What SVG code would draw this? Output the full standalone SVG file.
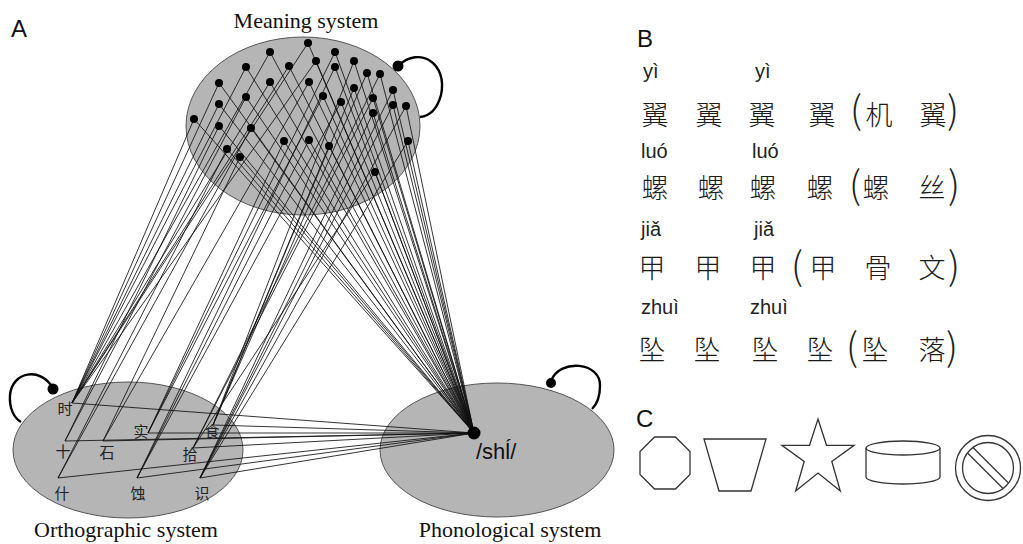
<svg xmlns="http://www.w3.org/2000/svg" width="1023" height="544" viewBox="0 0 1023 544">
<style>
.sys{fill:#b5b5b5;stroke:#555;stroke-width:1}
.lbl{font-family:"Liberation Serif",serif;font-size:22px;fill:#111;text-anchor:middle}
.pl{font-family:"Liberation Sans",Arial,sans-serif;font-size:24px;fill:#111}
.c{stroke:#111;stroke-width:0.85;fill:none}
.loop{stroke:#000;stroke-width:2.4;fill:none}
.dot{fill:#000}
.oc{font-family:"Noto Sans CJK SC","Noto Sans CJK JP",sans-serif;font-size:15px;fill:#222;text-anchor:middle}
.py{font-family:"Liberation Sans",Arial,sans-serif;font-size:20px;fill:#222}
.hz{font-family:"Noto Sans CJK SC","Noto Sans CJK JP",sans-serif;font-size:27px;font-weight:300;fill:#1a1a1a;text-anchor:middle}
.par{font-family:"Noto Sans CJK SC","Noto Sans",sans-serif;font-size:38px;font-weight:200;fill:#222;text-anchor:middle}
.shape{fill:none;stroke:#333;stroke-width:1.3}
</style>

<text class="pl" x="11" y="37">A</text>
<text class="pl" x="637" y="47">B</text>
<text class="pl" x="636" y="427">C</text>

<g id="meaning-system">
<ellipse class="sys" cx="303" cy="126" rx="117" ry="89"/>
<text class="lbl" x="306" y="28">Meaning system</text>
</g>
<g id="orthographic-system">
<ellipse class="sys" cx="128" cy="450" rx="115" ry="68"/>
<text class="lbl" x="126" y="537">Orthographic system</text>
</g>
<g id="phonological-system">
<ellipse class="sys" cx="497" cy="450" rx="117" ry="67"/>
<text class="lbl" x="510" y="537">Phonological system</text>
</g>

<g id="connectors">
<!-- meaning to phonology -->
<line class="c" x1="308" y1="43" x2="474" y2="433"/>
<line class="c" x1="270" y1="52" x2="474" y2="433"/>
<line class="c" x1="335" y1="52" x2="474" y2="433"/>
<line class="c" x1="316" y1="61" x2="474" y2="433"/>
<line class="c" x1="354" y1="61" x2="474" y2="433"/>
<line class="c" x1="246" y1="67" x2="474" y2="433"/>
<line class="c" x1="289" y1="66" x2="474" y2="433"/>
<line class="c" x1="335" y1="67" x2="474" y2="433"/>
<line class="c" x1="367" y1="73" x2="474" y2="433"/>
<line class="c" x1="380" y1="74" x2="474" y2="433"/>
<line class="c" x1="219" y1="83" x2="474" y2="433"/>
<line class="c" x1="270" y1="82" x2="474" y2="433"/>
<line class="c" x1="309" y1="82" x2="474" y2="433"/>
<line class="c" x1="354" y1="88" x2="474" y2="433"/>
<line class="c" x1="393" y1="90" x2="474" y2="433"/>
<line class="c" x1="246" y1="97" x2="474" y2="433"/>
<line class="c" x1="323" y1="96" x2="474" y2="433"/>
<line class="c" x1="373" y1="98" x2="474" y2="433"/>
<line class="c" x1="219" y1="104" x2="474" y2="433"/>
<line class="c" x1="341" y1="102" x2="474" y2="433"/>
<line class="c" x1="393" y1="105" x2="474" y2="433"/>
<line class="c" x1="406" y1="106" x2="474" y2="433"/>
<line class="c" x1="373" y1="113" x2="474" y2="433"/>
<line class="c" x1="194" y1="119" x2="474" y2="433"/>
<line class="c" x1="219" y1="126" x2="474" y2="433"/>
<line class="c" x1="251" y1="128" x2="474" y2="433"/>
<line class="c" x1="284" y1="141" x2="474" y2="433"/>
<line class="c" x1="309" y1="140" x2="474" y2="433"/>
<line class="c" x1="329" y1="146" x2="474" y2="433"/>
<line class="c" x1="408" y1="141" x2="474" y2="433"/>
<line class="c" x1="227" y1="149" x2="474" y2="433"/>
<line class="c" x1="240" y1="157" x2="474" y2="433"/>
<line class="c" x1="375" y1="172" x2="474" y2="433"/>
<!-- meaning to orthography -->
<line class="c" x1="194" y1="119" x2="72" y2="403"/>
<line class="c" x1="219" y1="104" x2="72" y2="403"/>
<line class="c" x1="219" y1="83" x2="72" y2="403"/>
<line class="c" x1="246" y1="67" x2="72" y2="403"/>
<line class="c" x1="270" y1="52" x2="72" y2="403"/>
<line class="c" x1="289" y1="66" x2="72" y2="403"/>
<line class="c" x1="308" y1="43" x2="72" y2="403"/>
<line class="c" x1="316" y1="61" x2="72" y2="403"/>
<line class="c" x1="270" y1="82" x2="72" y2="403"/>
<line class="c" x1="219" y1="126" x2="65" y2="441"/>
<line class="c" x1="246" y1="97" x2="65" y2="441"/>
<line class="c" x1="227" y1="149" x2="58" y2="478"/>
<line class="c" x1="251" y1="128" x2="58" y2="478"/>
<line class="c" x1="240" y1="157" x2="103" y2="441"/>
<line class="c" x1="309" y1="82" x2="103" y2="441"/>
<line class="c" x1="284" y1="141" x2="148" y2="433"/>
<line class="c" x1="323" y1="96" x2="148" y2="433"/>
<line class="c" x1="335" y1="52" x2="148" y2="433"/>
<line class="c" x1="309" y1="140" x2="137" y2="478"/>
<line class="c" x1="341" y1="102" x2="137" y2="478"/>
<line class="c" x1="335" y1="67" x2="137" y2="478"/>
<line class="c" x1="329" y1="146" x2="213" y2="425"/>
<line class="c" x1="354" y1="88" x2="213" y2="425"/>
<line class="c" x1="354" y1="61" x2="213" y2="425"/>
<line class="c" x1="367" y1="73" x2="213" y2="425"/>
<line class="c" x1="375" y1="172" x2="193" y2="448"/>
<line class="c" x1="373" y1="98" x2="193" y2="448"/>
<line class="c" x1="380" y1="74" x2="193" y2="448"/>
<line class="c" x1="373" y1="113" x2="200" y2="478"/>
<line class="c" x1="393" y1="105" x2="200" y2="478"/>
<line class="c" x1="393" y1="90" x2="200" y2="478"/>
<line class="c" x1="406" y1="106" x2="200" y2="478"/>
<line class="c" x1="408" y1="141" x2="200" y2="478"/>
<!-- orthography to phonology -->
<line class="c" x1="72" y1="403" x2="474" y2="433"/>
<line class="c" x1="65" y1="441" x2="474" y2="433"/>
<line class="c" x1="103" y1="441" x2="474" y2="433"/>
<line class="c" x1="148" y1="433" x2="474" y2="433"/>
<line class="c" x1="213" y1="425" x2="474" y2="433"/>
<line class="c" x1="193" y1="448" x2="474" y2="433"/>
<line class="c" x1="58" y1="478" x2="474" y2="433"/>
<line class="c" x1="137" y1="478" x2="474" y2="433"/>
<line class="c" x1="200" y1="478" x2="474" y2="433"/>
<!-- self loops -->
<path class="loop" d="M398,66 C420,45 448,64 441,95 C437,110 429,116 420,117"/>
<path class="loop" d="M53,388 C40,366 12,372 10,395 C9,408 14,418 21,422"/>
<path class="loop" d="M551,381 C560,358 601,362 600,386 C600,397 597,404 592,409"/>
</g>

<g id="meaning-units">
<circle class="dot" cx="398" cy="66" r="5.5"/>
<circle class="dot" cx="308" cy="43" r="4"/>
<circle class="dot" cx="270" cy="52" r="4"/>
<circle class="dot" cx="335" cy="52" r="4"/>
<circle class="dot" cx="316" cy="61" r="4"/>
<circle class="dot" cx="354" cy="61" r="4"/>
<circle class="dot" cx="246" cy="67" r="4"/>
<circle class="dot" cx="289" cy="66" r="4"/>
<circle class="dot" cx="335" cy="67" r="4"/>
<circle class="dot" cx="367" cy="73" r="4"/>
<circle class="dot" cx="380" cy="74" r="4"/>
<circle class="dot" cx="219" cy="83" r="4"/>
<circle class="dot" cx="270" cy="82" r="4"/>
<circle class="dot" cx="309" cy="82" r="4"/>
<circle class="dot" cx="354" cy="88" r="4"/>
<circle class="dot" cx="393" cy="90" r="4"/>
<circle class="dot" cx="246" cy="97" r="4"/>
<circle class="dot" cx="323" cy="96" r="4"/>
<circle class="dot" cx="373" cy="98" r="4"/>
<circle class="dot" cx="219" cy="104" r="4"/>
<circle class="dot" cx="341" cy="102" r="4"/>
<circle class="dot" cx="393" cy="105" r="4"/>
<circle class="dot" cx="406" cy="106" r="4"/>
<circle class="dot" cx="373" cy="113" r="4"/>
<circle class="dot" cx="194" cy="119" r="4"/>
<circle class="dot" cx="219" cy="126" r="4"/>
<circle class="dot" cx="251" cy="128" r="4"/>
<circle class="dot" cx="284" cy="141" r="4"/>
<circle class="dot" cx="309" cy="140" r="4"/>
<circle class="dot" cx="329" cy="146" r="4"/>
<circle class="dot" cx="408" cy="141" r="4"/>
<circle class="dot" cx="227" cy="149" r="4"/>
<circle class="dot" cx="240" cy="157" r="4"/>
<circle class="dot" cx="375" cy="172" r="4"/>
</g>

<g id="orthographic-units">
<circle class="dot" cx="53" cy="389" r="5.5"/>
<text class="oc" x="65" y="414">时</text>
<text class="oc" x="63" y="457">十</text>
<text class="oc" x="107" y="458">石</text>
<text class="oc" x="141" y="437">实</text>
<text class="oc" x="212" y="437">食</text>
<text class="oc" x="190" y="460">拾</text>
<text class="oc" x="62" y="499">什</text>
<text class="oc" x="138" y="499">蚀</text>
<text class="oc" x="202" y="499">识</text>
</g>

<g id="phonological-unit">
<circle class="dot" cx="551" cy="383" r="5"/>
<circle class="dot" cx="474" cy="433" r="6.5"/>
<text class="pl" x="476" y="459" style="font-size:22px">/shĺ/</text>
</g>

<g id="panel-b">
<text class="py" x="643" y="78">yì</text>
<text class="py" x="755" y="78">yì</text>
<text class="hz" x="655" y="125">翼</text>
<text class="hz" x="709" y="125">翼</text>
<text class="hz" x="762" y="125">翼</text>
<text class="hz" x="822" y="125">翼</text>
<text class="par" x="856" y="124">(</text>
<text class="hz" x="879" y="125">机</text>
<text class="hz" x="933" y="125">翼</text>
<text class="par" x="953" y="124">)</text>

<text class="py" x="641" y="158">luó</text>
<text class="py" x="752" y="158">luó</text>
<text class="hz" x="655" y="198">螺</text>
<text class="hz" x="711" y="198">螺</text>
<text class="hz" x="763" y="198">螺</text>
<text class="hz" x="820" y="198">螺</text>
<text class="par" x="855" y="199">(</text>
<text class="hz" x="876" y="198">螺</text>
<text class="hz" x="932" y="198">丝</text>
<text class="par" x="954" y="199">)</text>

<text class="py" x="641" y="236">jiǎ</text>
<text class="py" x="754" y="236">jiǎ</text>
<text class="hz" x="652" y="278">甲</text>
<text class="hz" x="708" y="278">甲</text>
<text class="hz" x="763" y="278">甲</text>
<text class="par" x="797" y="280">(</text>
<text class="hz" x="823" y="278">甲</text>
<text class="hz" x="878" y="278">骨</text>
<text class="hz" x="932" y="278">文</text>
<text class="par" x="954" y="280">)</text>

<text class="py" x="641" y="314">zhuì</text>
<text class="py" x="750" y="314">zhuì</text>
<text class="hz" x="652" y="360">坠</text>
<text class="hz" x="707" y="360">坠</text>
<text class="hz" x="765" y="360">坠</text>
<text class="hz" x="820" y="360">坠</text>
<text class="par" x="852" y="361">(</text>
<text class="hz" x="875" y="360">坠</text>
<text class="hz" x="932" y="360">落</text>
<text class="par" x="952" y="361">)</text>
</g>

<g id="panel-c">
<g id="octagon"><polygon class="shape" points="654.6,437 675.4,437 690,451.6 690,474.4 675.4,489 654.6,489 640,474.4 640,451.6"/></g>
<g id="trapezoid"><polygon class="shape" points="704,439 766,439 751,491 719,491"/></g>
<g id="star"><polygon class="shape" points="818,419 826.5,445.3 854.1,445.3 831.8,461.5 840.3,491 818,473 795.7,491 804.2,461.5 781.9,445.3 809.5,445.3"/></g>
<g id="cylinder">
<ellipse class="shape" cx="903" cy="448" rx="37" ry="7"/>
<path class="shape" d="M866,448 V477 A37,7 0 0 0 940,477 V448"/>
</g>
<g id="no-sign">
<circle class="shape" cx="988" cy="468" r="32.5"/>
<circle class="shape" cx="988" cy="468" r="25.5"/>
<line class="shape" x1="973" y1="447.5" x2="1008.5" y2="483"/>
<line class="shape" x1="967.5" y1="453" x2="1003" y2="488.5"/>
</g>
</g>
</svg>
